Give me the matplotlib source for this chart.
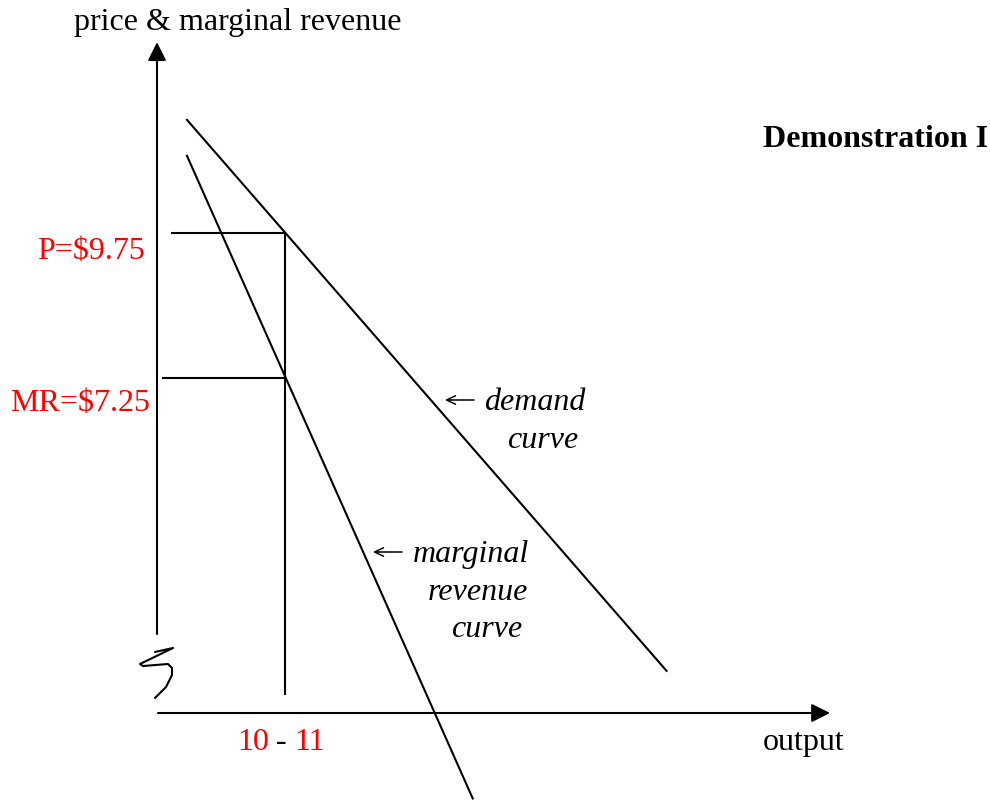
import matplotlib
matplotlib.use("Agg")
import matplotlib.pyplot as plt

# ---- data (output quantity, price in $) ----
demand_q = [2.46, 41.8]
demand_p = [11.7, 2.2]
mr_q = [2.46, 25.9]
mr_p = [11.08, 0.0]
q_star = 10.5
price_star = 9.75
mr_star = 7.25
price_label = "P=$9.75"
mr_label = "MR=$7.25"
q_labels = ["10", "-", "11"]

W, H = 990, 804
fig = plt.figure(figsize=(W / 100, H / 100), dpi=100)
ax = fig.add_axes([0, 0, 1, 1])
ax.set_xlim(-12.879, 68.33)
ax.set_ylim(-0.0776, 13.784)
ax.axis("off")

serif = ["Liberation Serif", "DejaVu Serif"]
FS = 23
lw = 1.5

def px(x, y):
    return (x / W, 1 - y / H)

# axes
arrow_kw = dict(arrowstyle="-|>", color="black", lw=lw, mutation_scale=28,
                shrinkA=0, shrinkB=0)
ax.annotate("", xy=(0, 13.04), xytext=(0, 2.836), arrowprops=arrow_kw)
ax.annotate("", xy=(55.21, 1.474), xytext=(0.08, 1.474), arrowprops=arrow_kw)

# axis break squiggle
brk_q = [-0.164, 1.313, -1.395, -1.148, 0.90, 1.23, 1.23, 0.74, -0.164]
brk_p = [2.526, 2.595, 2.319, 2.284, 2.319, 2.250, 2.129, 1.922, 1.733]
ax.plot(brk_q, brk_p, color="black", lw=lw, solid_joinstyle="round",
        solid_capstyle="round")

# curves
ax.plot(demand_q, demand_p, color="black", lw=lw)
ax.plot(mr_q, mr_p, color="black", lw=lw)

# guide lines
ax.plot([1.23, q_star], [price_star, price_star], color="black", lw=lw)
ax.plot([0.49, q_star], [mr_star, mr_star], color="black", lw=lw)
ax.plot([q_star, q_star], [price_star, 1.80], color="black", lw=lw)

# texts
fig.text(*px(238, 30), "price & marginal revenue", family=serif, fontsize=FS,
         ha="center", va="baseline")
fig.text(*px(988, 147), "Demonstration I", family=serif, fontsize=FS,
         fontweight="bold", ha="right", va="baseline")
fig.text(*px(145, 259), price_label, family=serif, fontsize=FS, color="red",
         ha="right", va="baseline")
fig.text(*px(150, 411), mr_label, family=serif, fontsize=FS, color="red",
         ha="right", va="baseline")
fig.text(*px(253, 750), q_labels[0], family=serif, fontsize=FS, color="red",
         ha="center", va="baseline")
fig.text(*px(281, 750), q_labels[1], family=serif, fontsize=FS, color="black",
         ha="center", va="baseline")
fig.text(*px(310, 750), q_labels[2], family=serif, fontsize=FS, color="red",
         ha="center", va="baseline")
fig.text(*px(845, 750), "output", family=serif, fontsize=FS,
         ha="right", va="baseline")

# label pointer arrows (thin, like the typeset "←")
ptr_kw = dict(arrowstyle="->,head_length=0.45,head_width=0.22", color="black",
              lw=1.1, mutation_scale=14, shrinkA=0, shrinkB=0)
ax.annotate("", xy=px(445, 401), xytext=px(474, 401),
            xycoords="figure fraction", textcoords="figure fraction",
            arrowprops=ptr_kw)
ax.annotate("", xy=px(373, 553), xytext=px(402, 553),
            xycoords="figure fraction", textcoords="figure fraction",
            arrowprops=ptr_kw)

fig.text(*px(585, 410), "demand", family=serif, fontsize=FS, style="italic",
         ha="right", va="baseline")
fig.text(*px(578, 448), "curve", family=serif, fontsize=FS, style="italic",
         ha="right", va="baseline")
fig.text(*px(529, 562), "marginal", family=serif, fontsize=FS, style="italic",
         ha="right", va="baseline")
fig.text(*px(528, 600), "revenue", family=serif, fontsize=FS, style="italic",
         ha="right", va="baseline")
fig.text(*px(522, 637), "curve", family=serif, fontsize=FS, style="italic",
         ha="right", va="baseline")

fig.savefig("out.png", dpi=100)
